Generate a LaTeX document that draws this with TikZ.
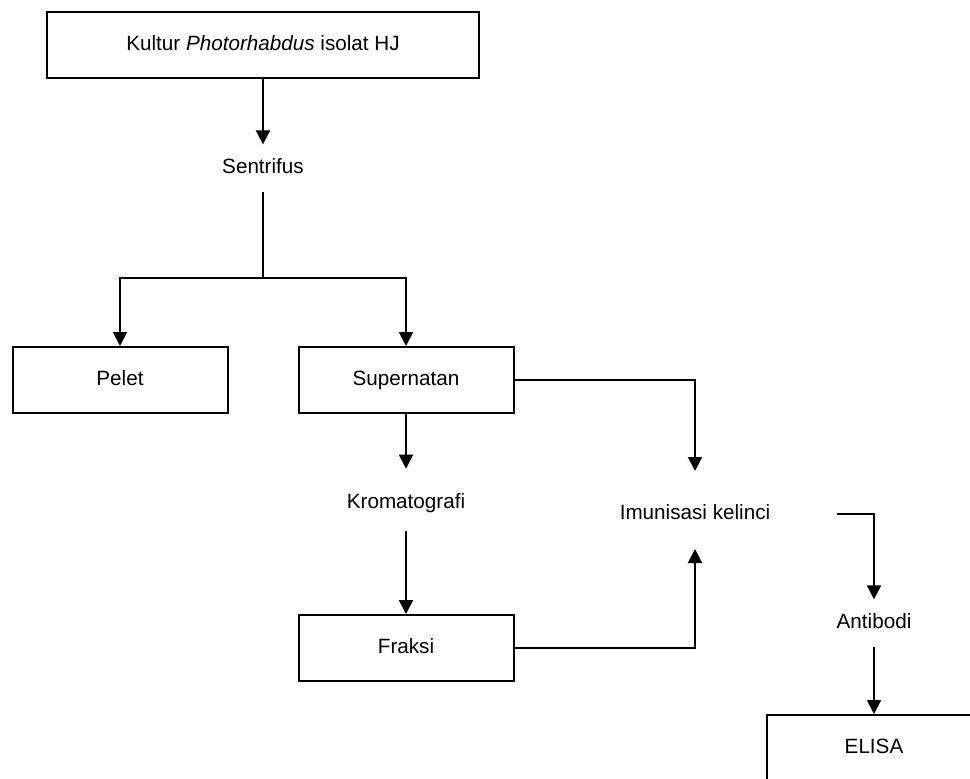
\documentclass[tikz,border=0pt]{standalone}
\usepackage{fontspec}
\setmainfont{Liberation Sans}
\usetikzlibrary{arrows.meta,positioning}

\begin{document}
\begin{tikzpicture}[x=0.75pt,y=-0.75pt,line width=1.5pt,
  every node/.style={font=\fontsize{15.5}{18}\selectfont,text height=11pt,text depth=3pt},
  box/.style={draw,minimum width=161.25pt,minimum height=49.5pt,inner sep=0pt},
  lbl/.style={minimum height=34pt,inner sep=0pt},
  arr/.style={-{Triangle[length=10.5pt,width=10.5pt]}}]
  \useasboundingbox (0,0) rectangle (970,778);
  \node[box,minimum width=324pt] (kultur) at (263,45) {Kultur \textit{Photorhabdus} isolat HJ};
  \node[lbl] (sentri) at (263,168) {Sentrifus};
  \coordinate (split) at (263,278);
  \node[box] (pelet) at (120,380) {Pelet};
  \node[box] (super) at (406,380) {Supernatan};
  \node[lbl] (kroma) at (406,503) {Kromatografi};
  \node[box] (fraksi) at (406,648) {Fraksi};
  \node[lbl] (imun) at (695,514) {Imunisasi kelinci};
  \node[lbl] (anti) at (874,623) {Antibodi};
  \node[box] (elisa) at (874,748) {ELISA};
  \draw[arr] (kultur) -- (sentri);
  \draw (sentri) -- (split);
  \draw[arr] (split) -| (pelet);
  \draw[arr] (split) -| (super);
  \draw[arr,shorten >=8pt] (super) -- (kroma);
  \draw[arr,shorten <=3pt] (kroma) -- (fraksi);
  \draw[arr,shorten >=14.5pt] (super.east) -| (imun);
  \draw[arr,shorten >=8.5pt] (fraksi.east) -| (imun);
  \draw[arr,shorten <=49pt] (imun.east) -| (anti);
  \draw[arr] (anti) -- (elisa);
\end{tikzpicture}
\end{document}
